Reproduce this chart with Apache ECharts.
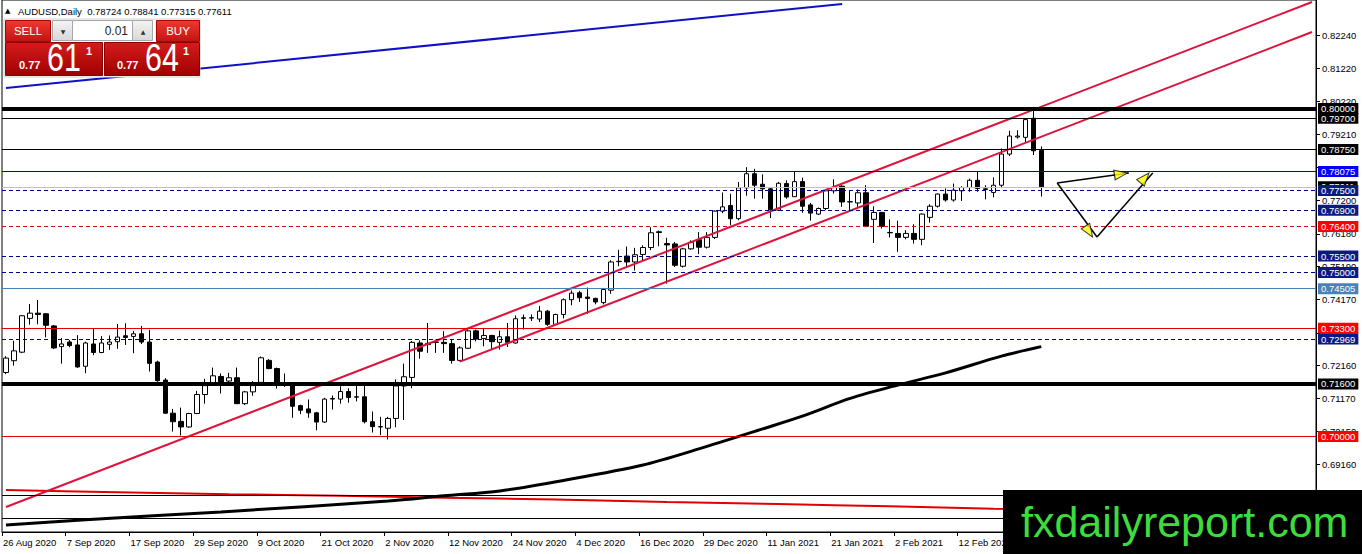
<!DOCTYPE html>
<html>
<head>
<meta charset="utf-8">
<title>AUDUSD Daily</title>
<script src="https://cdn.jsdelivr.net/npm/echarts@6.0.0/dist/echarts.min.js"></script>
<style>
  html, body { margin: 0; padding: 0; background: #fff; }
  #main { width: 1362px; height: 554px; }
</style>
</head>
<body>
<div id="main"></div>
<script>
// ---- data ----
var dates = ['26 Aug 2020','27 Aug 2020','28 Aug 2020','31 Aug 2020','1 Sep 2020','2 Sep 2020','3 Sep 2020','4 Sep 2020',
  '7 Sep 2020','8 Sep 2020','9 Sep 2020','10 Sep 2020','11 Sep 2020','14 Sep 2020','15 Sep 2020','16 Sep 2020',
  '17 Sep 2020','18 Sep 2020','21 Sep 2020','22 Sep 2020','23 Sep 2020','24 Sep 2020','25 Sep 2020','28 Sep 2020',
  '29 Sep 2020','30 Sep 2020','1 Oct 2020','2 Oct 2020','5 Oct 2020','6 Oct 2020','7 Oct 2020','8 Oct 2020',
  '9 Oct 2020','12 Oct 2020','13 Oct 2020','14 Oct 2020','15 Oct 2020','16 Oct 2020','19 Oct 2020','20 Oct 2020',
  '21 Oct 2020','22 Oct 2020','23 Oct 2020','26 Oct 2020','27 Oct 2020','28 Oct 2020','29 Oct 2020','30 Oct 2020',
  '2 Nov 2020','3 Nov 2020','4 Nov 2020','5 Nov 2020','6 Nov 2020','9 Nov 2020','10 Nov 2020','11 Nov 2020',
  '12 Nov 2020','13 Nov 2020','16 Nov 2020','17 Nov 2020','18 Nov 2020','19 Nov 2020','20 Nov 2020','23 Nov 2020',
  '24 Nov 2020','25 Nov 2020','26 Nov 2020','27 Nov 2020','30 Nov 2020','1 Dec 2020','2 Dec 2020','3 Dec 2020',
  '4 Dec 2020','7 Dec 2020','8 Dec 2020','9 Dec 2020','10 Dec 2020','11 Dec 2020','14 Dec 2020','15 Dec 2020',
  '16 Dec 2020','17 Dec 2020','18 Dec 2020','21 Dec 2020','22 Dec 2020','23 Dec 2020','24 Dec 2020','28 Dec 2020',
  '29 Dec 2020','30 Dec 2020','31 Dec 2020','4 Jan 2021','5 Jan 2021','6 Jan 2021','7 Jan 2021','8 Jan 2021',
  '11 Jan 2021','12 Jan 2021','13 Jan 2021','14 Jan 2021','15 Jan 2021','18 Jan 2021','19 Jan 2021','20 Jan 2021',
  '21 Jan 2021','22 Jan 2021','25 Jan 2021','26 Jan 2021','27 Jan 2021','28 Jan 2021','29 Jan 2021','1 Feb 2021',
  '2 Feb 2021','3 Feb 2021','4 Feb 2021','5 Feb 2021','8 Feb 2021','9 Feb 2021','10 Feb 2021','11 Feb 2021',
  '12 Feb 2021','15 Feb 2021','16 Feb 2021','17 Feb 2021','18 Feb 2021','19 Feb 2021','22 Feb 2021','23 Feb 2021',
  '24 Feb 2021','25 Feb 2021','26 Feb 2021'];

var opens = [0.7195,0.7231,0.7257,0.7360,0.7376,0.7374,0.7337,0.7274,0.7288,0.7279,
  0.7214,0.7282,0.7256,0.7281,0.7289,0.7307,0.7305,0.7313,0.7288,0.7227,
  0.7172,0.7071,0.7046,0.7029,0.7070,0.7128,0.7164,0.7183,0.7169,0.7179,
  0.7100,0.7136,0.7165,0.7232,0.7207,0.7162,0.7159,0.7094,0.7084,0.7072,
  0.7044,0.7114,0.7114,0.7137,0.7120,0.7121,0.7045,0.7030,0.7025,0.7055,
  0.7154,0.7180,0.7285,0.7280,0.7287,0.7287,0.7283,0.7232,0.7269,0.7322,
  0.7299,0.7308,0.7287,0.7304,0.7285,0.7360,0.7361,0.7358,0.7382,0.7342,
  0.7372,0.7417,0.7438,0.7425,0.7421,0.7408,0.7446,0.7533,0.7550,0.7532,
  0.7555,0.7576,0.7624,0.7588,0.7587,0.7519,0.7572,0.7600,0.7577,0.7607,
  0.7687,0.7704,0.7664,0.7758,0.7801,0.7769,0.7755,0.7690,0.7771,0.7731,
  0.7777,0.7706,0.7678,0.7695,0.7749,0.7763,0.7715,0.7712,0.7743,0.7662,
  0.7683,0.7622,0.7619,0.7607,0.7619,0.7601,0.7668,0.7702,0.7739,0.7721,
  0.7749,0.7759,0.7781,0.7755,0.7744,0.7766,0.7861,0.7913,0.7912,0.7970,
  0.78724];
var highs = [0.7245,0.7292,0.7370,0.7404,0.7416,0.7376,0.7340,0.7300,0.7294,0.7309,
  0.7289,0.7328,0.7306,0.7308,0.7343,0.7345,0.7322,0.7337,0.7325,0.7231,
  0.7178,0.7084,0.7088,0.7072,0.7139,0.7176,0.7210,0.7192,0.7194,0.7210,
  0.7139,0.7169,0.7244,0.7236,0.7210,0.7192,0.7166,0.7097,0.7113,0.7075,
  0.7118,0.7125,0.7153,0.7147,0.7158,0.7160,0.7076,0.7060,0.7060,0.7174,
  0.7222,0.7291,0.7293,0.7346,0.7295,0.7321,0.7297,0.7275,0.7326,0.7326,
  0.7331,0.7310,0.7323,0.7346,0.7369,0.7372,0.7372,0.7398,0.7386,0.7374,
  0.7421,0.7445,0.7444,0.7454,0.7423,0.7453,0.7537,0.7569,0.7579,0.7575,
  0.7583,0.7638,0.7628,0.7606,0.7593,0.7575,0.7598,0.7623,0.7623,0.7689,
  0.7744,0.7740,0.7776,0.7821,0.7816,0.7799,0.7758,0.7776,0.7781,0.7806,
  0.7789,0.7712,0.7698,0.7753,0.7784,0.7766,0.7751,0.7753,0.7766,0.7702,
  0.7685,0.7662,0.7658,0.7629,0.7647,0.7680,0.7708,0.7741,0.7756,0.7771,
  0.7763,0.7786,0.7807,0.7766,0.7790,0.7878,0.7932,0.7934,0.7970,0.8005,
  0.78841];
var lows = [0.7190,0.7216,0.7254,0.7341,0.7342,0.7302,0.7267,0.7222,0.7272,0.7209,
  0.7193,0.7248,0.7254,0.7264,0.7267,0.7279,0.7254,0.7282,0.7198,0.7167,
  0.7069,0.7015,0.7003,0.7027,0.7068,0.7100,0.7163,0.7131,0.7164,0.7100,
  0.7096,0.7124,0.7163,0.7205,0.7146,0.7151,0.7057,0.7068,0.7057,0.7019,
  0.7041,0.7082,0.7100,0.7103,0.7107,0.7040,0.7012,0.7004,0.6991,0.7028,
  0.7050,0.7147,0.7237,0.7255,0.7255,0.7255,0.7222,0.7229,0.7267,0.7290,
  0.7275,0.7267,0.7265,0.7273,0.7283,0.7326,0.7352,0.7349,0.7337,0.7340,
  0.7360,0.7400,0.7410,0.7374,0.7403,0.7403,0.7435,0.7519,0.7519,0.7506,
  0.7537,0.7568,0.7580,0.7466,0.7517,0.7515,0.7569,0.7556,0.7573,0.7602,
  0.7681,0.7644,0.7659,0.7734,0.7725,0.7725,0.7666,0.7687,0.7725,0.7730,
  0.7682,0.7658,0.7675,0.7690,0.7741,0.7700,0.7690,0.7695,0.7639,0.7590,
  0.7634,0.7607,0.7563,0.7601,0.7588,0.7583,0.7652,0.7698,0.7716,0.7716,
  0.7718,0.7746,0.7746,0.7723,0.7729,0.7759,0.7855,0.7908,0.7898,0.7858,
  0.77315];
var closes = [0.7239,0.7261,0.7368,0.7376,0.7372,0.7339,0.7270,0.7282,0.7277,0.7212,
  0.7285,0.7256,0.7285,0.7288,0.7303,0.7302,0.7313,0.7288,0.7223,0.7170,
  0.7071,0.7045,0.7029,0.7070,0.7128,0.7155,0.7185,0.7161,0.7179,0.7100,
  0.7136,0.7155,0.7240,0.7207,0.7161,0.7160,0.7092,0.7080,0.7072,0.7044,
  0.7114,0.7116,0.7137,0.7119,0.7121,0.7045,0.7030,0.7029,0.7055,0.7154,
  0.7182,0.7287,0.7260,0.7284,0.7288,0.7283,0.7232,0.7270,0.7322,0.7297,
  0.7308,0.7289,0.7304,0.7287,0.7359,0.7362,0.7362,0.7382,0.7342,0.7372,
  0.7417,0.7437,0.7423,0.7421,0.7410,0.7448,0.7532,0.7534,0.7532,0.7554,
  0.7576,0.7621,0.7622,0.7584,0.7522,0.7572,0.7592,0.7577,0.7607,0.7687,
  0.7700,0.7664,0.7758,0.7801,0.7766,0.7755,0.7691,0.7772,0.7730,0.7777,
  0.7702,0.7681,0.7695,0.7749,0.7759,0.7715,0.7716,0.7743,0.7641,0.7683,
  0.7641,0.7621,0.7607,0.7619,0.7601,0.7678,0.7702,0.7739,0.7721,0.7751,
  0.7759,0.7781,0.7756,0.7753,0.7766,0.7861,0.7916,0.7916,0.7966,0.7871,
  0.77611];

// price scale: tick marks, and the tick labels that are not hidden behind price tags
var yTicks = [0.6814,0.6916,0.7015,0.7117,0.7216,0.7316,0.7417,0.7519,0.7618,0.7720,0.7820,0.7921,0.8022,0.8122,0.8224];
var yTickLabels = [0.6814,0.6916,0.7015,0.7117,0.7216,0.7417,0.7519,0.7618,0.7720,0.7921,0.8022,0.8122,0.8224];

// horizontal levels (price) and what kind of line each one is
var levelPrices = [0.80000,0.79700,0.78750,0.78075,0.77611,0.77500,0.76900,0.76400,0.75500,0.75000,0.74505,0.73300,0.72969,0.71600,0.70000,0.68200,0.67500];
var levelKinds  = ['major','black','black','blue','bid','navy','navy','redDash','navy','navy','steel','red','navy','major','red','plain','plain'];

// moving averages, [bar, price]
var maBlack = [[0,0.6730],[10,0.6746],[27,0.6770],[48,0.6803],[55,0.6819],[62,0.6834],[70,0.6866],[80,0.6913],
  [87,0.6962],[95,0.7023],[100,0.7062],[106,0.7116],[112,0.7157],[118,0.7194],[125,0.7245],[130,0.7274]];
var maRed = [[0,0.6837],[14,0.6830],[28,0.6824],[42,0.6819],[55,0.6813],[69,0.6808],[83,0.6800],[97,0.6794],[111,0.6787],[124,0.6780],[130,0.6778]];

// trend lines, [bar, price]
var trendBlue = [[-0.5,0.80624],[105.2,0.83185]];
var channelUpper = [[-0.13,0.67850],[164,0.83246]];
var channelLower = [[57,0.72280],[164,0.82331]];
var arrowPaths = [
  [[132.3,0.77728],[140.5,0.78033]],
  [[132.3,0.77728],[136.7,0.76082]],
  [[136.7,0.76082],[143.6,0.78033]]
];

var headerOHLC = [0.78724,0.78841,0.77315,0.77611];
var sellPrice = ['0.77','61','1'];
var buyPrice = ['0.77','64','1'];
var lotSize = '0.01';

// ---- chart ----
var chart = echarts.init(document.getElementById('main'), null, { renderer: 'svg' });

var yMax = 0.833071, yMin = 0.670876;
var gridLeft = 1, gridRight = 46, gridBottom = 22;
var futureSlots = 34;      // empty chart shift on the right
var axisCats = dates.slice();
for (var k = 0; k < futureSlots; k++) axisCats.push('+' + (k + 1));

var candleData = opens.map(function (o, i) { return [o, closes[i], lows[i], highs[i]]; });

var levelStyle = {
  major:   { line: '#000000', width: 4, type: 'solid', tag: '#000000' },
  black:   { line: '#000000', width: 1, type: 'solid', tag: '#000000' },
  blue:    { line: '#0000C8', width: 1, type: 'solid', tag: '#0000FF' },
  bid:     { line: '#C0C0C0', width: 1, type: 'solid', tag: '#000000' },
  navy:    { line: '#000080', width: 1, type: [4, 3],  tag: '#0A1A80' },
  redDash: { line: '#D01010', width: 1, type: [4, 3],  tag: '#FF0000' },
  steel:   { line: '#4682B4', width: 1, type: 'solid', tag: '#4682B4' },
  red:     { line: '#E00000', width: 1, type: 'solid', tag: '#FF0000' },
  plain:   { line: '#000000', width: 1, type: 'solid', tag: null }
};

var levelLines = levelPrices.map(function (p, i) {
  var st = levelStyle[levelKinds[i]];
  return {
    yAxis: p,
    lineStyle: { color: st.line, width: st.width, type: st.type },
    label: st.tag ? {
      show: true, position: 'end', distance: 2, formatter: p.toFixed(5),
      color: '#fff', backgroundColor: st.tag, padding: [1, 3, 0, 3],
      fontSize: 9.5, fontFamily: 'Liberation Sans'
    } : { show: false }
  };
});

// arrow heads: small yellow triangles placed at the end of each path
var plotW = 1362 - gridLeft - gridRight, plotH = 554 - gridBottom;
var pxBar = plotW / axisCats.length, pxPrice = plotH / (yMax - yMin);
var headLen = 13;
var arrowHeads = arrowPaths.map(function (seg) {
  var a = seg[0], b = seg[1];
  var dx = (b[0] - a[0]) * pxBar, dy = -(b[1] - a[1]) * pxPrice;
  var len = Math.sqrt(dx * dx + dy * dy);
  var ux = dx / len, uy = dy / len;
  return {
    value: [b[0] - ux * headLen / 2 / pxBar, b[1] + uy * headLen / 2 / pxPrice],
    symbolRotate: Math.atan2(-uy, ux) * 180 / Math.PI - 90
  };
});

function showLabel(i) { return i % 8 === 0 && i <= 120; }

function trend(data, color, width, z) {
  return { type: 'line', data: data, symbol: 'none', silent: true, z: z,
    lineStyle: { color: color, width: width } };
}

var series = [
  {
    type: 'candlestick',
    data: candleData,
    barWidth: 5,
    z: 2,
    silent: true,
    itemStyle: { color: '#ffffff', color0: '#000000', borderColor: '#000000', borderColor0: '#000000', borderWidth: 1 }
  },
  {
    type: 'line', data: [], clip: false, silent: true, z: 5,
    markLine: { symbol: ['none', 'none'], precision: 5, silent: true, animation: false, data: levelLines }
  },
  { type: 'line', data: maRed, symbol: 'none', smooth: 0.2, silent: true, z: 3, lineStyle: { color: '#E00000', width: 2 } },
  { type: 'line', data: maBlack, symbol: 'none', smooth: 0.3, silent: true, z: 3, lineStyle: { color: '#000000', width: 3 } },
  trend(trendBlue, '#1010C8', 2, 4),
  trend(channelUpper, '#DC143C', 2, 4),
  trend(channelLower, '#DC143C', 2, 4)
];
arrowPaths.forEach(function (seg) { series.push(trend(seg, '#000000', 1.5, 6)); });
series.push({
  type: 'scatter', data: arrowHeads, symbol: 'triangle', symbolSize: [10, headLen], silent: true, z: 7,
  itemStyle: { color: '#FFFF00', borderColor: '#000000', borderWidth: 1 }
});

var redBtn = new echarts.graphic.LinearGradient(0, 0, 0, 1, [{ offset: 0, color: '#EC3A30' }, { offset: 1, color: '#C41212' }]);
var redBox = new echarts.graphic.LinearGradient(0, 0, 0, 1, [{ offset: 0, color: '#D41C1C' }, { offset: 1, color: '#A00000' }]);
var grayBtn = new echarts.graphic.LinearGradient(0, 0, 0, 1, [{ offset: 0, color: '#F4F4F4' }, { offset: 1, color: '#D8D8D8' }]);

function txt(x, y, text, size, color, align, extra, scaleX) {
  var st = { text: text, fill: color, fontSize: size, fontFamily: 'Liberation Sans', align: align || 'left', verticalAlign: 'middle' };
  if (extra) for (var key in extra) st[key] = extra[key];
  return { type: 'text', z: 100, silent: true, x: x, y: y, scaleX: scaleX || 1, style: st };
}
function box(x, y, w, h, fill, stroke) {
  return { type: 'rect', z: 99, silent: true, shape: { x: x, y: y, width: w, height: h }, style: { fill: fill, stroke: stroke || null, lineWidth: 1 } };
}

var graphic = [
  txt(5, 11, '\u25B2', 7, '#000', 'left', { fontFamily: 'DejaVu Sans' }),
  txt(18, 11, 'AUDUSD,Daily  ' + headerOHLC.map(function (v) { return v.toFixed(5); }).join(' '), 9.5, '#000'),
  box(4, 19, 196, 58, '#ffffff', '#d0d0d0'),
  box(5.5, 20.5, 45, 21, redBtn, '#B00000'),
  txt(28, 31, 'SELL', 11.5, '#fff', 'center'),
  box(52.5, 20.5, 20, 20, grayBtn, '#A8A8A8'),
  txt(63, 31, '\u25BC', 6, '#333', 'center', { fontFamily: 'DejaVu Sans' }),
  box(72.5, 20.5, 60, 20, '#ffffff', '#A8A8A8'),
  txt(128, 31, lotSize, 12, '#222', 'right'),
  box(132.5, 20.5, 20, 20, grayBtn, '#A8A8A8'),
  txt(143, 31, '\u25B2', 6, '#333', 'center', { fontFamily: 'DejaVu Sans' }),
  box(156.5, 20.5, 43, 21, redBtn, '#B00000'),
  txt(178, 31, 'BUY', 11.5, '#fff', 'center'),
  box(5.5, 42.5, 97, 33, redBox, '#8C0000'),
  box(104.5, 42.5, 95, 33, redBox, '#8C0000'),
  txt(19, 65, sellPrice[0], 11, '#fff', 'left', { fontWeight: 'bold' }),
  txt(47, 58, sellPrice[1], 38, '#fff', 'left', null, 0.8),
  txt(86, 51, sellPrice[2], 11, '#fff', 'left', { fontWeight: 'bold' }),
  txt(117, 65, buyPrice[0], 11, '#fff', 'left', { fontWeight: 'bold' }),
  txt(145, 58, buyPrice[1], 38, '#fff', 'left', null, 0.8),
  txt(183, 51, buyPrice[2], 11, '#fff', 'left', { fontWeight: 'bold' }),
  box(1003, 490, 359, 64, '#000000'),
  txt(1021, 522, 'fxdailyreport.com', 43, '#3DDC3D')
];

var option = {
  animation: false,
  backgroundColor: '#ffffff',
  grid: { left: gridLeft, right: gridRight, top: 0, bottom: gridBottom, show: true, borderColor: '#000', borderWidth: 1, backgroundColor: '#fff' },
  xAxis: {
    type: 'category',
    data: axisCats,
    boundaryGap: true,
    axisLine: { lineStyle: { color: '#000', width: 1 } },
    axisTick: { show: true, interval: showLabel, length: 4, lineStyle: { color: '#000' } },
    axisLabel: { interval: showLabel, align: 'left', margin: 5, padding: [0, 0, 0, -3], fontSize: 9.5, color: '#000', fontFamily: 'Liberation Sans', hideOverlap: false },
    splitLine: { show: false }
  },
  yAxis: {
    type: 'value',
    position: 'right',
    min: yMin,
    max: yMax,
    scale: true,
    axisLine: { show: true, lineStyle: { color: '#000', width: 1 } },
    axisTick: { show: true, length: 4, customValues: yTicks, lineStyle: { color: '#000' } },
    axisLabel: { customValues: yTickLabels, margin: 6, fontSize: 9.5, color: '#000', fontFamily: 'Liberation Sans',
      formatter: function (v) { return v.toFixed(5); } },
    splitLine: { show: false }
  },
  series: series,
  graphic: graphic
};

chart.setOption(option);
</script>
</body>
</html>
